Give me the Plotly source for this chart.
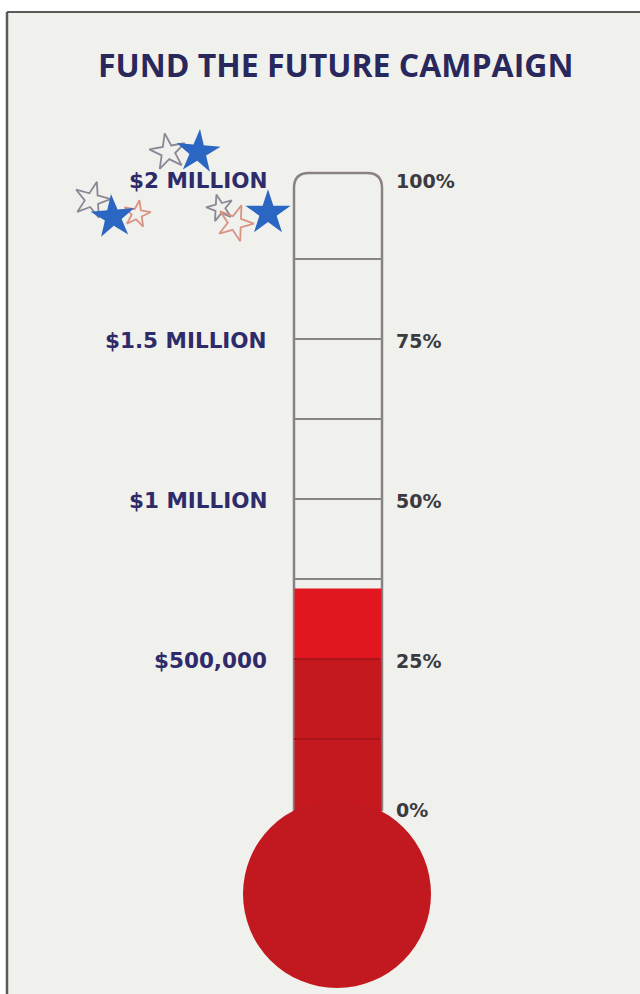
import plotly.graph_objects as go

# ---------------- data ----------------
title_text = "FUND THE FUTURE CAMPAIGN"
goal_pct = [100, 75, 50, 25, 0]
money_labels = ["$2 MILLION", "$1.5 MILLION", "$1 MILLION", "$500,000", ""]
pct_labels = ["100%", "75%", "50%", "25%", "0%"]
minor_levels = [87.5, 75, 62.5, 50, 37.5, 25, 12.5]
raised_pct = 36          # amount raised, % of $2 million goal
bright_from_pct = 25     # lighter red section starts here (photo lighting)

# decorative stars near the top label
star_x = [168, 198, 92, 113, 137, 220, 235, 268]
star_y_px = [152, 152, 200, 217, 214, 208, 223, 213]
star_kind = ["open", "fill", "open", "fill", "open", "open", "open", "fill"]
star_color = ["#8c8794", "#2b66c2", "#8c8794", "#2b66c2", "#d99383", "#8c8794", "#d99383", "#2b66c2"]
star_size = [27, 33, 27, 33, 20, 20, 27, 34]
star_angle = [-10, 5, 15, -5, 10, -15, 20, 0]

# ---------------- geometry helpers (layout only) ----------------
W, H = 640, 994
PX_PER_PCT = 6.4
ZERO_PX = 819


def pct(px):
    return (ZERO_PX - px) / PX_PER_PCT


tube_l, tube_r = 294, 382
tube_top = pct(173)
neck = pct(811)
rx = 15
ry = 15 / PX_PER_PCT
bulb_cx, bulb_cy, bulb_r = 337, pct(894), 94

fig = go.Figure()

# photo background & frame
shapes = [
    dict(type="rect", xref="x", yref="y", x0=7, x1=W + 5, y0=pct(H + 5), y1=pct(12),
         fillcolor="#f0f0ed", line=dict(width=0), layer="below"),
    dict(type="line", xref="x", yref="y", x0=7, x1=W + 5, y0=pct(12), y1=pct(12),
         line=dict(color="#5a5a5a", width=2), layer="below"),
    dict(type="line", xref="x", yref="y", x0=7, x1=7, y0=pct(12), y1=pct(H + 5),
         line=dict(color="#5a5a5a", width=2.5), layer="below"),
]

# tube outline (rounded top)
path = (f"M {tube_l},{neck} L {tube_l},{tube_top - ry} "
        f"Q {tube_l},{tube_top} {tube_l + rx},{tube_top} "
        f"L {tube_r - rx},{tube_top} "
        f"Q {tube_r},{tube_top} {tube_r},{tube_top - ry} "
        f"L {tube_r},{neck}")
shapes.append(dict(type="path", xref="x", yref="y", path=path,
                   line=dict(color="#8a8282", width=2.5), layer="below"))

fill_base = neck - 3
fig.add_trace(go.Bar(
    x=[(tube_l + tube_r) / 2], y=[bright_from_pct - fill_base], base=[fill_base],
    width=[tube_r - tube_l - 1], marker=dict(color="#c5181f", line=dict(width=0)),
    hoverinfo="skip", showlegend=False))
fig.add_trace(go.Bar(
    x=[(tube_l + tube_r) / 2], y=[raised_pct - bright_from_pct], base=[bright_from_pct],
    width=[tube_r - tube_l - 1], marker=dict(color="#e2161e", line=dict(width=0)),
    hoverinfo="skip", showlegend=False))

# level lines
for lv in minor_levels:
    inside = lv < raised_pct
    shapes.append(dict(type="line", xref="x", yref="y", x0=tube_l, x1=tube_r - (2 if inside else 0),
                       y0=lv, y1=lv,
                       line=dict(color="#a8161d" if inside else "#8a8484", width=2),
                       layer="above"))

# bulb
shapes.append(dict(type="circle", xref="x", yref="y",
                   x0=bulb_cx - bulb_r, x1=bulb_cx + bulb_r,
                   y0=bulb_cy - bulb_r / PX_PER_PCT, y1=bulb_cy + bulb_r / PX_PER_PCT,
                   fillcolor="#c2181f", line=dict(width=0), layer="above"))

# stars
for kind in ["open", "fill"]:
    idx = [i for i, k in enumerate(star_kind) if k == kind]
    fig.add_trace(go.Scatter(
        x=[star_x[i] for i in idx], y=[pct(star_y_px[i]) for i in idx], mode="markers",
        marker=dict(symbol="star-open" if kind == "open" else "star",
                    size=[star_size[i] for i in idx],
                    angle=[star_angle[i] for i in idx],
                    color=[star_color[i] for i in idx], opacity=1,
                    line=dict(width=1.8 if kind == "open" else 0,
                              color=[star_color[i] for i in idx])),
        hoverinfo="skip", showlegend=False))

annotations = []
for p, ml, pl in zip(goal_pct, money_labels, pct_labels):
    if ml:
        annotations.append(dict(x=269, y=p, xref="x", yref="y", text=f"<b>{ml}</b>",
                                showarrow=False, xanchor="right", yanchor="middle",
                                yshift=-1,
                                font=dict(family="DejaVu Sans", size=21.5, color="#2f2b6b")))
    annotations.append(dict(x=394, y=p, xref="x", yref="y", text=f"<b>{pl}</b>",
                            showarrow=False, xanchor="left", yanchor="middle",
                            yshift=9 if p == 0 else -2,
                            font=dict(family="DejaVu Sans", size=19, color="#3b3b3f")))

annotations.append(dict(x=335, y=pct(64), xref="x", yref="y", text=f"<b>{title_text}</b>",
                        showarrow=False, xanchor="center", yanchor="middle",
                        font=dict(family="Open Sans", size=32, color="#29285c")))

fig.update_layout(
    width=W, height=H, margin=dict(l=0, r=0, t=0, b=0),
    paper_bgcolor="white", plot_bgcolor="white",
    xaxis=dict(range=[0, W], visible=False, fixedrange=True),
    yaxis=dict(range=[pct(H), pct(0)], visible=False, fixedrange=True),
    shapes=shapes, annotations=annotations, barmode="overlay", showlegend=False,
)

fig.write_html("out.html")
